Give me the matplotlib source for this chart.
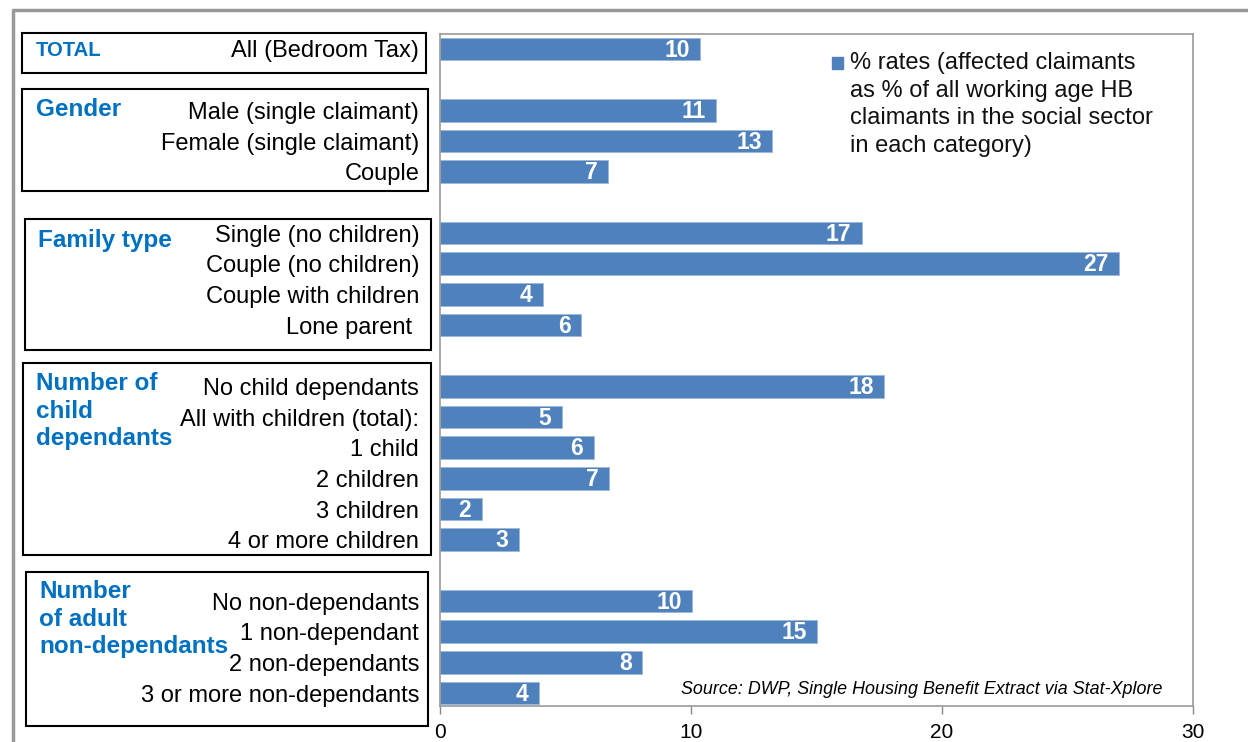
import matplotlib
matplotlib.use("Agg")
import matplotlib.pyplot as plt
from matplotlib.patches import Rectangle
from matplotlib.lines import Line2D

plt.rcParams['font.family'] = ['Liberation Sans', 'DejaVu Sans']

# ---- data ----
categories = [
    "All (Bedroom Tax)",
    "Male (single claimant)", "Female (single claimant)", "Couple",
    "Single (no children)", "Couple (no children)", "Couple with children", "Lone parent ",
    "No child dependants", "All with children (total):", "1 child", "2 children", "3 children", "4 or more children",
    "No non-dependants", "1 non-dependant", "2 non-dependants", "3 or more non-dependants",
]
values = [10.37, 11.0, 13.24, 6.71, 16.8, 27.05, 4.1, 5.63,
          17.7, 4.85, 6.12, 6.74, 1.66, 3.16, 10.05, 15.03, 8.06, 3.93]
group_sizes = [1, 3, 4, 6, 4]
group_titles = ["TOTAL", "Gender", "Family type", "Number of\nchild\ndependants",
                "Number\nof adult\nnon-dependants"]
x_ticks = [0, 10, 20, 30]
legend_label = "% rates (affected claimants\nas % of all working age HB\nclaimants in the social sector\nin each category)"
source_text = "Source: DWP, Single Housing Benefit Extract via Stat-Xplore"

W, H = 1248, 742
fig = plt.figure(figsize=(W / 100, H / 100), dpi=100)

def fx(px):
    return px / W

def fy(py):
    return 1 - py / H

# positions with one empty slot between groups
positions = []
slot = 0
for gi, n in enumerate(group_sizes):
    for k in range(n):
        positions.append(slot)
        slot += 1
    slot += 1

ax_left, ax_right, ax_top, ax_bot = 440, 1193, 34, 706
ax = fig.add_axes([fx(ax_left), fy(ax_bot), fx(ax_right) - fx(ax_left), fy(ax_top) - fy(ax_bot)])

bar_color = "#4F81BD"
ax.barh(positions, values, height=0.74, color=bar_color, edgecolor="#9BB7DA", linewidth=0.6)
for p, v in zip(positions, values):
    ax.text(v - 0.42, p + 0.04, f"{round(v):d}", color="white", fontsize=16.5, fontweight="bold",
            ha="right", va="center")

ax.set_xlim(0, 30)
row_px = 30.67
ymin = -(49 - ax_top) / row_px
ymax = ymin + (ax_bot - ax_top) / row_px
ax.set_ylim(ymax, ymin)

ax.set_xticks(x_ticks)
ax.set_xticklabels([str(t) for t in x_ticks], fontsize=15)
ax.tick_params(axis="x", length=6, width=1, color="#888888", pad=6)
ax.set_yticks(positions)
ax.set_yticklabels(categories, fontsize=17)
ax.tick_params(axis="y", length=0, pad=15)
for s in ax.spines.values():
    s.set_color("#999999")
    s.set_linewidth(1.2)

# legend (manual)
fig.patches.append(Rectangle((fx(832), fy(69)), fx(843) - fx(832), fy(57) - fy(69),
                             transform=fig.transFigure, color=bar_color))
for i, line in enumerate(legend_label.split("\n")):
    fig.text(fx(850), fy(63 + i * 27.6), line, fontsize=17, va="center", ha="left",
             color="#111111")

fig.text(fx(681), fy(690), source_text, fontsize=12.9, style="italic", va="center", ha="left")

# group boxes
boxes = [(22, 33, 426, 73), (22, 89, 428, 191), (25, 219, 431, 350),
         (23, 363, 431, 555), (26, 572, 428, 726)]
title_pos = [(36, 51, 14.6), (36, 110, 17.5), (38, 240, 17.5), (36, 384, 17.5), (39, 592, 17.5)]
blue = "#0070C0"
for (x0, y0, x1, y1), (tx, ty, fs), title in zip(boxes, title_pos, group_titles):
    fig.patches.append(Rectangle((fx(x0), fy(y1)), fx(x1) - fx(x0), fy(y0) - fy(y1),
                                 transform=fig.transFigure, fill=False, edgecolor="black",
                                 linewidth=1.5))
    for i, line in enumerate(title.split("\n")):
        fig.text(fx(tx), fy(ty + i * 27), line, fontsize=fs, fontweight="bold", color=blue,
                 va="center", ha="left")

# outer gray border
fig.lines.append(Line2D([fx(13), fx(13), fx(1248)], [fy(742), fy(10), fy(10)],
                        transform=fig.transFigure, color="#999999", linewidth=2.5))

fig.savefig("out.png", dpi=100)
